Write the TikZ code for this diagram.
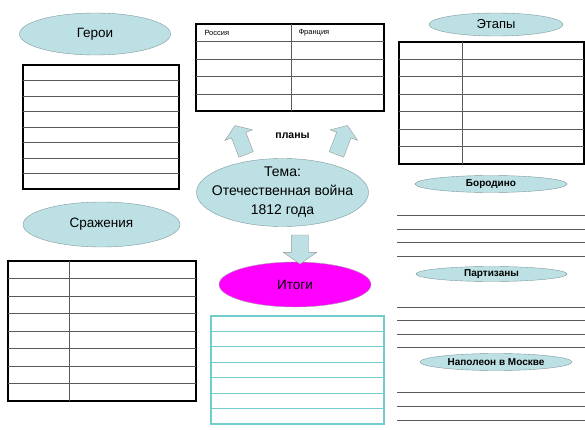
\documentclass[tikz,border=0pt]{standalone}
\usepackage{fontspec}
\setmainfont{Liberation Sans}
\usepackage{tikz}
\definecolor{ovalblue}{HTML}{BCE0E3}
\definecolor{ovalline}{HTML}{7E9A9E}
\definecolor{itogipink}{HTML}{FF00FF}
\definecolor{itogiteal}{HTML}{74CDCD}
\usetikzlibrary{positioning, shapes.geometric, shapes.arrows}
\tikzstyle{oval} = [ellipse, draw=ovalline, fill=ovalblue, inner sep=0pt]
\tikzstyle{frame} = [draw=black, line width=1.6pt, outer sep=0pt, inner sep=0pt, anchor=north west]
\tikzstyle{rule} = [draw=black!65, line width=0.9pt]
\tikzstyle{bigarrow} = [single arrow, draw=gray!80, fill=ovalblue, inner sep=7.5pt,
                        minimum height=31pt, single arrow head extend=7pt,
                        single arrow tip angle=110, single arrow head indent=0pt]

\begin{document}
\begin{tikzpicture}[x=1pt, y=-1pt]
    \tikzstyle{every node}=[font=\fontsize{13.5}{16}\selectfont]
    \useasboundingbox (0,0) rectangle (585,430);

    % ovals
    \node[oval, minimum width=151pt, minimum height=42pt] (geroi) at (95,34) {Герои};
    \node[oval, minimum width=157pt, minimum height=45pt] (srazh) at (101.5,224.5) {Сражения};
    \node[oval, minimum width=134pt, minimum height=23pt, font=\fontsize{13}{15}\selectfont] (etapy) at (496,24.5) {Этапы};
    \node[oval, minimum width=172pt, minimum height=68pt, align=center, inner xsep=-25pt, inner ysep=-20pt,
          font=\fontsize{14}{19}\selectfont] (tema) at (282.5,192.5) {Тема:\\Отечественная война\\1812 года};
    \node[oval, fill=itogipink, draw=gray!70, minimum width=152pt, minimum height=45pt] (itogi) at (295,284.5) {Итоги};
    \node[oval, minimum width=152pt, minimum height=17pt, font=\bfseries\fontsize{10}{12}\selectfont] (borodino) at (491,184) {Бородино};
    \node[oval, minimum width=151pt, minimum height=15pt, font=\bfseries\fontsize{10}{12}\selectfont] (partizany) at (491.5,274) {Партизаны};
    \node[oval, minimum width=152pt, minimum height=17pt, font=\bfseries\fontsize{10}{12}\selectfont] (moskva) at (496,362) {Наполеон в Москве};

    % arrows
    \node[bigarrow, rotate=111] (planyleft) at (241.5,142.5) {};
    \node[bigarrow, rotate=69] (planyright) at (341,142.5) {};
    \node[bigarrow, rotate=-90, inner sep=8.5pt, minimum height=29pt, single arrow head extend=8pt] (down) at (300,246.5) {};
    \node[font=\bfseries\fontsize{10.5}{12}\selectfont] (plany) at (292.5,136) {планы};

    % tables
    \node[frame, minimum width=156pt, minimum height=124pt] (geroitab) at (23,65) {};
    \foreach \k in {1,...,7}
        \draw[rule] ([yshift=-15.5*\k pt]geroitab.north west) -- ([yshift=-15.5*\k pt]geroitab.north east);

    \node[frame, minimum width=188pt, minimum height=87pt] (plantab) at (196,24) {};
    \foreach \k in {1,...,4}
        \draw[rule] ([yshift=-17.5*\k pt]plantab.north west) -- ([yshift=-17.5*\k pt]plantab.north east);
    \draw[rule] ([xshift=95pt]plantab.north west) -- ([xshift=95pt]plantab.south west);
    \node[font=\fontsize{7.5}{9}\selectfont, anchor=west] (rossiya) at (201,33) {Россия};
    \node[font=\fontsize{7.5}{9}\selectfont, anchor=west] (franciya) at (295,33) {Франция};

    \node[frame, minimum width=185pt, minimum height=122pt] (etaptab) at (399,42) {};
    \foreach \k in {1,...,6}
        \draw[rule] ([yshift=-17.43*\k pt]etaptab.north west) -- ([yshift=-17.43*\k pt]etaptab.north east);
    \draw[rule] ([xshift=63pt]etaptab.north west) -- ([xshift=63pt]etaptab.south west);

    \node[frame, minimum width=188pt, minimum height=140pt] (srazhtab) at (8,261) {};
    \foreach \k in {1,...,7}
        \draw[rule] ([yshift=-17.5*\k pt]srazhtab.north west) -- ([yshift=-17.5*\k pt]srazhtab.north east);
    \draw[rule] ([xshift=61pt]srazhtab.north west) -- ([xshift=61pt]srazhtab.south west);

    \node[frame, draw=itogiteal, line width=1.1pt, minimum width=173pt, minimum height=108pt] (itogitab) at (211,316) {};
    \foreach \k in {1,...,6}
        \draw[draw=itogiteal, line width=1.1pt] ([yshift=-15.43*\k pt]itogitab.north west) -- ([yshift=-15.43*\k pt]itogitab.north east);

    % lines for notes
    \foreach \y in {215.7,229,242.3,256, 307.3,320.7,334,347.3, 392.7,406.7,420}
        \draw[rule] (397,\y) -- (585,\y);
\end{tikzpicture}
\end{document}
